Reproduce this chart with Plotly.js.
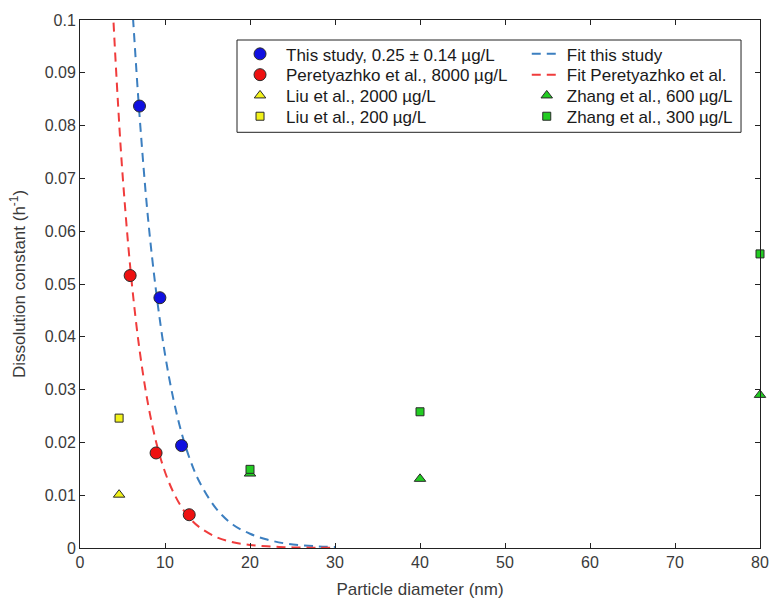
<!DOCTYPE html>
<html>
<head>
<meta charset="utf-8">
<script src="https://cdn.plot.ly/plotly-3.0.1.min.js"></script>
<style>
  html, body { margin: 0; padding: 0; background: #fff; }
  #chart { width: 769px; height: 599px; }
</style>
</head>
<body>
<div id="chart"></div>
<script>
// ---- Data ----
const thisStudyD = [7.0, 9.4, 11.95];
const thisStudyK = [0.0837, 0.0474, 0.0194];

const peretyazhkoD = [5.9, 8.95, 12.85];
const peretyazhkoK = [0.0516, 0.0180, 0.0063];

const liu2000D = [4.6];
const liu2000K = [0.0101];

const liu200D = [4.6];
const liu200K = [0.0246];

const zhang600D = [20, 40, 80];
const zhang600K = [0.0141, 0.0131, 0.0290];

const zhang300D = [20, 40, 80];
const zhang300K = [0.0149, 0.0258, 0.0557];

// fitted curves
const fitThisD = [6.0, 6.25, 7, 8, 9, 10, 11, 12, 13, 14, 16, 18, 20, 22, 24, 26, 28, 30];
const fitThisK = [0.106, 0.100, 0.082, 0.0625, 0.048, 0.0367, 0.0281, 0.0215, 0.0165, 0.0127, 0.0075, 0.0044, 0.0027, 0.0016, 0.0009, 0.00053, 0.00031, 0.00018];

const fitPerD = [3.7, 3.93, 4.5, 5, 6, 7, 8, 9, 10, 11, 12, 13, 14, 16, 18, 20, 22, 24, 26, 28, 30];
const fitPerK = [0.108, 0.100, 0.0834, 0.0709, 0.0517, 0.0376, 0.0273, 0.0198, 0.0144, 0.0105, 0.0076, 0.0055, 0.0040, 0.0021, 0.0011, 0.00058, 0.00031, 0.00016, 0.00009, 0.00004, 0.00002];

const seriesNames = [
  'This study, 0.25 ± 0.14 µg/L',
  'Peretyazhko et al., 8000 µg/L',
  'Liu et al., 2000 µg/L',
  'Liu et al., 200 µg/L',
  'Fit this study',
  'Fit Peretyazhko et al.',
  'Zhang et al., 600 µg/L',
  'Zhang et al., 300 µg/L'
];

const xTickVals = [0, 10, 20, 30, 40, 50, 60, 70, 80];
const xTickText = ['0', '10', '20', '30', '40', '50', '60', '70', '80'];
const yTickVals = [0, 0.01, 0.02, 0.03, 0.04, 0.05, 0.06, 0.07, 0.08, 0.09, 0.1];
const yTickText = ['0', '0.01', '0.02', '0.03', '0.04', '0.05', '0.06', '0.07', '0.08', '0.09', '0.1'];

// ---- Traces ----
const edge = { color: '#2a2a2a', width: 1 };
const traces = [
  { x: fitThisD, y: fitThisK, type: 'scatter', mode: 'lines', name: seriesNames[4], legend: 'legend5',
    line: { color: '#3c7fc0', width: 2, dash: '9px,6px', shape: 'spline' } },
  { x: fitPerD, y: fitPerK, type: 'scatter', mode: 'lines', name: seriesNames[5], legend: 'legend6',
    line: { color: '#f03c3c', width: 2, dash: '9px,6px', shape: 'spline' } },
  { x: thisStudyD, y: thisStudyK, type: 'scatter', mode: 'markers', name: seriesNames[0], legend: 'legend',
    marker: { symbol: 'circle', size: 12, color: '#1010e0', line: edge }, cliponaxis: false },
  { x: peretyazhkoD, y: peretyazhkoK, type: 'scatter', mode: 'markers', name: seriesNames[1], legend: 'legend2',
    marker: { symbol: 'circle', size: 12, color: '#ee1111', line: edge }, cliponaxis: false },
  { x: liu2000D, y: liu2000K, type: 'scatter', mode: 'markers', name: seriesNames[2], legend: 'legend3',
    marker: { symbol: 'triangle-up', size: 10, color: '#f2f21a', line: edge }, cliponaxis: false },
  { x: liu200D, y: liu200K, type: 'scatter', mode: 'markers', name: seriesNames[3], legend: 'legend4',
    marker: { symbol: 'square', size: 8, color: '#f2f21a', line: edge }, cliponaxis: false },
  { x: zhang600D, y: zhang600K, type: 'scatter', mode: 'markers', name: seriesNames[6], legend: 'legend7',
    marker: { symbol: 'triangle-up', size: 10, color: '#22cc22', line: edge }, cliponaxis: false },
  { x: zhang300D, y: zhang300K, type: 'scatter', mode: 'markers', name: seriesNames[7], legend: 'legend8',
    marker: { symbol: 'square', size: 8, color: '#22cc22', line: edge }, cliponaxis: false }
];

const FONT = 'Liberation Sans, Arial, Helvetica, sans-serif';
const axisFont = { family: FONT, size: 16, color: '#3a3a3a' };

// one legend per legend row so the rows sit as tightly as in the picture
const rowY = [0.935, 0.8956, 0.8563, 0.8169];
function mkLegend(x, y, iw) {
  return {
    x: x, y: y, xanchor: 'left', yanchor: 'middle', orientation: 'v',
    bgcolor: 'rgba(0,0,0,0)', borderwidth: 0, itemwidth: iw,
    font: { family: FONT, size: 17, color: '#1a1a1a' }
  };
}

const layout = {
  width: 769, height: 599,
  margin: { l: 80, r: 9, t: 20, b: 51, pad: 0 },
  paper_bgcolor: '#ffffff', plot_bgcolor: '#ffffff',
  font: { family: FONT, color: '#222' },
  showlegend: true,
  legend:  mkLegend(0.2265, rowY[0], 42),
  legend2: mkLegend(0.2265, rowY[1], 42),
  legend3: mkLegend(0.2265, rowY[2], 42),
  legend4: mkLegend(0.2265, rowY[3], 42),
  legend5: mkLegend(0.657, rowY[0], 30),
  legend6: mkLegend(0.657, rowY[1], 30),
  legend7: mkLegend(0.657, rowY[2], 30),
  legend8: mkLegend(0.657, rowY[3], 30),
  shapes: [{
    type: 'rect', xref: 'paper', yref: 'paper', layer: 'below',
    x0: 0.2309, x1: 0.9721, y0: 0.7873, y1: 0.9621,
    line: { color: '#222', width: 1 }, fillcolor: '#ffffff'
  }],
  xaxis: {
    range: [0, 80], tickvals: xTickVals, ticktext: xTickText,
    ticks: 'inside', ticklen: 5, tickcolor: '#222', tickwidth: 1,
    showline: true, linecolor: '#222', linewidth: 1, mirror: 'allticks',
    showgrid: false, zeroline: false, tickfont: axisFont,
    title: { text: 'Particle diameter (nm)', font: { family: FONT, size: 17, color: '#3a3a3a' }, standoff: 12 }
  },
  yaxis: {
    range: [0, 0.1], tickvals: yTickVals, ticktext: yTickText,
    ticks: 'inside', ticklen: 5, tickcolor: '#222', tickwidth: 1,
    showline: true, linecolor: '#222', linewidth: 1, mirror: 'allticks',
    showgrid: false, zeroline: false, tickfont: axisFont,
    title: { text: 'Dissolution constant (h<sup>-1</sup>)', font: { family: FONT, size: 17, color: '#3a3a3a' }, standoff: 14 }
  }
};

Plotly.newPlot('chart', traces, layout, { displayModeBar: false, staticPlot: true });
</script>
</body>
</html>
